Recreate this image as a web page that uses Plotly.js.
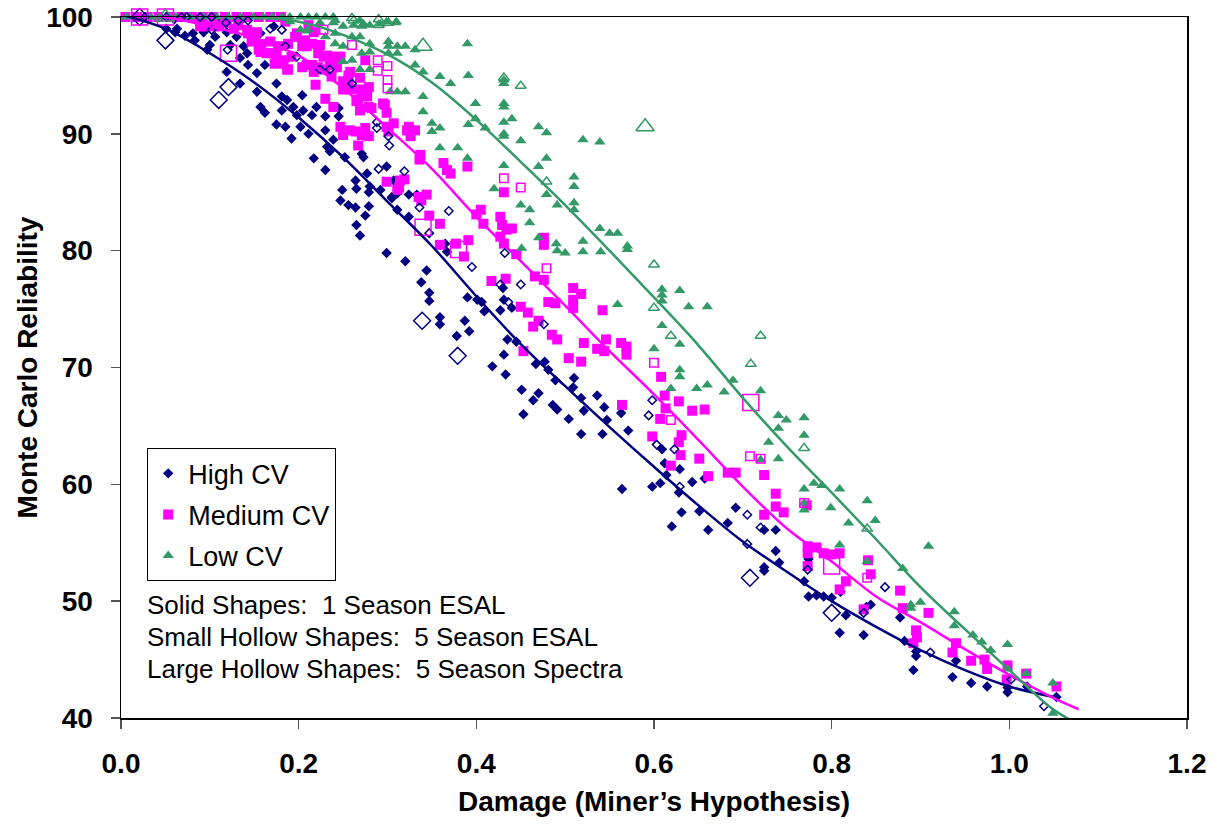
<!DOCTYPE html>
<html>
<head>
<meta charset="utf-8">
<script src="https://cdn.plot.ly/plotly-3.0.1.min.js"></script>
<style>html,body{margin:0;padding:0;background:#fff;}#chart{width:1217px;height:829px;}</style>
</head>
<body>
<div id="chart"></div>
<script>
// ---------- categories / labels ----------
const seriesNames = ["High CV", "Medium CV", "Low CV"];
const noteLines = ["Solid Shapes:\u00A0 1 Season ESAL", "Small Hollow Shapes:\u00A0 5 Season ESAL", "Large Hollow Shapes:\u00A0 5 Season Spectra"];
const xTitle = "Damage (Miner\u2019s Hypothesis)";
const yTitle = "Monte Carlo Reliability";

// ---------- High CV: solid (1 season ESAL) ----------
const highSolidX = [0.030,0.060,0.090,0.113,0.138,0.051,0.061,0.072,0.081,0.083,0.093,0.097,0.100,0.106,0.108,0.119,0.123,0.130,0.138,0.134,0.142,0.143,0.119,0.134,0.153,0.153,0.162,0.157,0.162,0.175,0.175,0.181,0.185,0.187,0.194,0.181,0.192,0.198,0.204,0.205,0.211,0.215,0.220,0.230,0.230,0.232,0.235,0.239,0.245,0.245,0.252,0.264,0.271,0.277,0.279,0.292,0.299,0.307,0.311,0.172,0.157,0.063,0.202,0.273,0.217,0.230,0.265,0.280,0.249,0.247,0.256,0.264,0.279,0.275,0.265,0.269,0.305,0.324,0.333,0.311,0.324,0.299,0.320,0.344,0.338,0.347,0.365,0.367,0.347,0.359,0.359,0.387,0.392,0.378,0.390,0.401,0.406,0.409,0.430,0.431,0.440,0.427,0.435,0.445,0.431,0.418,0.433,0.451,0.464,0.470,0.453,0.467,0.477,0.481,0.489,0.486,0.491,0.504,0.509,0.510,0.518,0.521,0.536,0.544,0.547,0.518,0.542,0.563,0.571,0.564,0.598,0.607,0.614,0.609,0.612,0.629,0.628,0.643,0.657,0.631,0.651,0.620,0.661,0.683,0.692,0.724,0.737,0.737,0.741,0.724,0.724,0.769,0.774,0.783,0.791,0.774,0.800,0.810,0.809,0.816,0.836,0.844,0.839,0.877,0.882,0.895,0.895,0.892,0.936,0.940,0.957,0.975,0.998,0.998,1.020,1.053];
const highSolidY = [100.0,99.8,99.6,99.7,99.9,99.0,98.7,98.4,98.6,98.0,98.7,97.2,97.6,98.3,99.3,98.7,97.6,98.3,97.5,96.5,96.9,95.9,95.3,94.3,95.2,93.6,95.9,92.3,91.8,94.3,90.8,93.2,90.6,92.9,92.3,92.0,89.6,91.6,93.3,92.0,90.0,91.6,92.3,91.5,90.3,88.9,88.5,89.5,92.2,91.5,88.0,86.0,88.3,86.6,85.0,85.2,87.2,86.0,84.9,99.2,98.6,99.0,90.6,88.0,87.9,86.9,85.3,85.5,85.2,84.3,83.9,83.7,83.8,83.0,82.2,81.3,84.6,84.8,84.8,83.5,82.9,79.8,79.1,78.3,77.3,76.4,80.6,79.9,75.7,74.3,73.7,74.0,73.1,72.7,76.0,75.8,75.6,74.8,76.8,75.8,75.1,74.9,72.4,72.2,71.1,70.1,69.4,68.1,67.2,67.8,66.0,70.3,70.5,69.8,68.9,66.8,66.4,65.6,68.3,69.1,67.4,66.3,67.6,66.6,65.5,64.3,64.3,66.1,64.6,59.6,59.8,60.1,60.8,63.0,61.8,61.3,59.3,60.2,60.5,57.6,57.7,56.4,56.1,56.7,58.0,56.1,56.1,54.3,53.3,52.9,52.6,51.7,53.6,50.5,50.4,50.4,50.3,50.8,47.3,48.8,47.1,49.7,49.5,48.6,46.6,45.7,45.3,44.1,43.5,44.9,43.0,42.7,42.6,42.2,42.7,41.8];

// ---------- High CV: small hollow (5 season ESAL) ----------
const highHollowX = [0.027,0.051,0.068,0.074,0.089,0.102,0.118,0.132,0.143,0.102,0.168,0.181,0.185,0.198,0.224,0.235,0.260,0.288,0.288,0.301,0.302,0.290,0.319,0.305,0.336,0.369,0.347,0.432,0.395,0.427,0.450,0.436,0.476,0.598,0.594,0.603,0.623,0.629,0.705,0.720,0.705,0.773,0.836,0.860,0.911,1.002,1.039,0.120];
const highHollowY = [100.0,100.0,100.0,100.0,100.0,100.0,99.5,99.7,99.7,98.9,99.0,98.9,97.5,96.6,95.5,95.5,94.3,91.0,90.5,89.8,89.0,87.0,86.8,84.5,83.7,83.4,81.5,79.8,78.6,77.1,77.1,75.6,73.7,67.2,65.9,63.4,63.0,59.8,57.4,56.3,54.9,52.7,49.0,51.2,45.6,43.3,41.0,97.2];

// ---------- High CV: large hollow (5 season spectra) ----------
const highLargeX = [0.021,0.050,0.110,0.121,0.339,0.379,0.708,0.800];
const highLargeY = [100.0,98.0,92.9,94.0,74.0,71.0,52.0,49.0];

// ---------- Medium CV: solid ----------
const medSolidX = [0.005,0.018,0.030,0.042,0.055,0.068,0.080,0.092,0.104,0.117,0.130,0.142,0.155,0.168,0.180,0.095,0.110,0.132,0.143,0.151,0.158,0.155,0.170,0.177,0.181,0.188,0.196,0.204,0.215,0.222,0.215,0.188,0.204,0.173,0.219,0.147,0.157,0.168,0.164,0.175,0.183,0.187,0.192,0.209,0.209,0.217,0.222,0.232,0.235,0.239,0.237,0.247,0.256,0.250,0.258,0.269,0.269,0.267,0.277,0.279,0.269,0.295,0.299,0.301,0.322,0.331,0.326,0.337,0.363,0.367,0.299,0.314,0.311,0.344,0.335,0.119,0.127,0.104,0.089,0.142,0.153,0.198,0.217,0.211,0.185,0.207,0.224,0.228,0.237,0.245,0.243,0.230,0.258,0.275,0.256,0.279,0.250,0.271,0.230,0.265,0.239,0.282,0.297,0.299,0.247,0.258,0.275,0.250,0.271,0.324,0.264,0.279,0.267,0.307,0.336,0.371,0.313,0.319,0.338,0.347,0.359,0.359,0.377,0.390,0.431,0.405,0.400,0.408,0.427,0.429,0.434,0.440,0.427,0.431,0.391,0.386,0.445,0.476,0.476,0.466,0.476,0.417,0.433,0.450,0.458,0.481,0.489,0.509,0.518,0.509,0.509,0.542,0.464,0.470,0.485,0.491,0.453,0.521,0.546,0.536,0.544,0.563,0.569,0.569,0.504,0.518,0.564,0.608,0.612,0.628,0.613,0.643,0.657,0.607,0.598,0.631,0.628,0.630,0.651,0.619,0.661,0.683,0.692,0.724,0.737,0.737,0.746,0.724,0.773,0.773,0.783,0.791,0.799,0.809,0.773,0.772,0.816,0.809,0.841,0.844,0.836,0.877,0.880,0.909,0.895,0.896,0.892,0.940,0.936,0.957,0.972,0.975,0.998,0.997,1.019,1.053];
const medSolidY = [100.0,100.0,100.0,100.0,100.0,100.0,100.0,100.0,100.0,100.0,100.0,100.0,100.0,100.0,100.0,99.2,99.2,99.3,98.6,98.0,97.7,97.2,96.9,97.5,96.3,97.7,98.3,97.5,97.7,96.9,95.9,95.5,95.7,96.0,94.2,97.9,97.0,97.9,96.9,96.7,96.0,95.5,96.6,95.9,97.5,95.3,95.7,96.7,95.9,96.5,94.9,96.6,95.0,94.5,93.8,94.8,93.8,92.9,93.2,92.3,92.0,92.6,90.6,90.2,90.3,90.3,89.8,88.2,87.5,86.9,85.9,86.0,85.2,84.8,84.6,99.5,99.0,99.2,99.2,98.9,98.7,98.6,98.7,99.3,99.6,98.0,97.6,96.6,96.6,96.6,95.7,95.5,95.3,96.3,94.6,94.0,93.8,93.5,93.0,92.8,92.3,92.2,92.5,91.8,90.6,90.3,90.5,89.9,89.9,90.6,90.2,89.8,89.0,90.9,87.8,86.6,85.4,86.1,84.3,83.0,82.3,80.5,80.6,87.2,85.0,83.5,83.1,82.3,82.9,82.2,81.8,81.9,81.2,80.6,80.9,79.5,79.7,80.5,81.1,77.8,77.5,77.4,77.6,75.2,74.7,75.6,75.5,76.8,76.3,75.8,75.1,74.9,73.5,74.0,72.8,72.4,71.4,72.1,72.4,71.6,71.4,72.1,71.8,71.1,70.8,70.5,66.8,69.2,67.6,67.1,66.5,66.3,66.4,65.6,64.1,64.2,63.6,62.5,62.2,61.6,60.7,61.0,61.0,60.8,59.2,58.1,57.6,57.4,54.7,54.1,54.6,54.1,54.0,54.1,53.0,58.2,51.7,51.0,53.5,52.3,49.3,50.9,49.4,49.0,47.5,46.9,46.4,46.4,45.6,44.9,45.0,44.2,44.5,43.3,43.8,42.7];

// ---------- Medium CV: small hollow ----------
const medHollowX = [0.219,0.228,0.260,0.289,0.289,0.300,0.300,0.300,0.431,0.450,0.479,0.600,0.619,0.708,0.720,0.840,0.769];
const medHollowY = [98.9,98.9,97.6,96.3,95.4,95.8,94.6,93.9,86.2,85.4,78.5,70.4,65.5,62.4,62.2,52.0,58.4];

// ---------- Medium CV: large hollow ----------
const medLargeX = [0.021,0.050,0.121,0.340,0.380,0.709,0.800];
const medLargeY = [100.0,100.0,96.9,82.0,80.1,67.0,53.0];

// ---------- Low CV: solid ----------
const lowSolidX = [0.006,0.033,0.042,0.061,0.078,0.093,0.108,0.121,0.134,0.149,0.160,0.170,0.181,0.190,0.202,0.211,0.220,0.230,0.239,0.190,0.202,0.211,0.224,0.239,0.250,0.262,0.273,0.292,0.299,0.309,0.241,0.241,0.269,0.271,0.310,0.280,0.209,0.230,0.260,0.269,0.241,0.250,0.280,0.301,0.301,0.311,0.320,0.331,0.271,0.280,0.301,0.311,0.250,0.260,0.269,0.280,0.331,0.340,0.359,0.371,0.391,0.303,0.311,0.320,0.340,0.340,0.350,0.359,0.350,0.399,0.399,0.391,0.410,0.359,0.390,0.431,0.431,0.431,0.431,0.440,0.431,0.431,0.431,0.450,0.470,0.479,0.520,0.539,0.379,0.390,0.431,0.470,0.479,0.510,0.510,0.420,0.450,0.460,0.460,0.491,0.510,0.510,0.539,0.550,0.559,0.570,0.470,0.490,0.520,0.479,0.491,0.500,0.520,0.540,0.570,0.451,0.609,0.609,0.609,0.629,0.639,0.559,0.609,0.660,0.629,0.600,0.629,0.629,0.619,0.648,0.660,0.679,0.689,0.720,0.740,0.749,0.769,0.740,0.769,0.729,0.740,0.720,0.769,0.780,0.789,0.809,0.799,0.769,0.769,0.819,0.809,0.840,0.849,0.840,0.909,0.880,0.889,0.900,0.889,0.938,0.938,0.959,0.969,0.979,0.998,0.998,1.019,1.049,1.049];
const lowSolidY = [100.0,100.0,100.0,100.0,100.0,100.0,100.0,100.0,100.0,100.0,100.0,100.0,100.0,100.0,100.0,100.0,100.0,100.0,100.0,99.6,98.9,98.9,99.5,99.5,99.2,99.3,99.4,99.4,99.6,99.5,98.6,99.7,99.7,99.2,99.6,99.3,98.8,98.3,98.3,98.3,97.7,97.5,97.7,97.9,97.5,97.5,97.5,97.2,96.9,97.0,96.9,96.9,96.2,96.3,95.5,95.5,95.9,95.3,94.9,94.3,95.0,93.6,93.6,93.6,93.2,91.9,90.9,90.5,90.2,92.6,91.3,90.8,90.5,88.8,97.7,94.3,94.6,92.6,92.3,91.3,91.0,90.0,89.8,89.4,90.6,90.1,89.5,89.3,88.8,87.9,87.3,87.2,87.9,86.3,85.5,85.3,83.9,83.5,82.4,83.9,84.1,83.5,81.9,81.5,81.5,80.4,81.1,80.6,80.8,84.8,80.0,79.8,79.9,79.9,80.1,80.2,76.7,76.2,75.7,76.6,75.2,75.4,73.6,75.2,72.0,71.6,69.8,69.2,68.2,68.2,68.5,67.9,68.9,68.0,65.9,65.5,65.7,64.8,64.2,63.6,62.2,62.1,59.6,60.1,59.9,59.6,58.0,58.4,57.8,56.7,54.8,58.6,56.9,53.4,54.7,52.8,49.7,49.9,49.4,49.1,47.9,47.1,46.5,45.8,46.3,44.2,43.8,43.0,40.4];

// ---------- Low CV: small hollow ----------
const lowHollowX = [0.262,0.290,0.290,0.301,0.260,0.431,0.450,0.479,0.600,0.600,0.619,0.720,0.709,0.769,0.840];
const lowHollowY = [99.7,99.8,99.3,99.5,99.9,94.8,94.1,85.9,78.8,75.1,72.7,72.7,70.3,63.1,56.2];

// ---------- Low CV: large hollow ----------
const lowLargeX = [0.050,0.340,0.590];
const lowLargeY = [100.0,97.5,90.6];

// ---------- trend lines ----------
const highTrendX = [0.00,0.05,0.10,0.15,0.20,0.25,0.30,0.35,0.40,0.45,0.50,0.55,0.60,0.65,0.70,0.75,0.80,0.85,0.90,0.95,1.00,1.05];
const highTrendY = [100.2,99.0,96.9,94.4,91.4,88.0,84.2,80.4,76.1,72.0,68.4,64.9,61.5,58.2,55.1,52.5,50.0,47.8,45.8,44.1,42.7,41.8];
const medTrendX = [0.00,0.05,0.10,0.15,0.20,0.25,0.30,0.35,0.40,0.45,0.50,0.55,0.60,0.65,0.70,0.75,0.80,0.85,0.90,0.95,1.00,1.05,1.078];
const medTrendY = [100.4,100.0,99.2,98.2,96.7,93.9,90.5,87.0,82.9,79.1,75.3,71.4,67.7,63.8,59.8,56.2,53.4,50.4,48.2,45.9,43.7,41.7,40.75];
const lowTrendX = [0.15,0.20,0.23,0.30,0.35,0.40,0.45,0.50,0.55,0.60,0.65,0.70,0.75,0.80,0.85,0.90,0.95,1.00,1.05,1.08];
const lowTrendY = [100.0,99.6,99.0,96.8,94.4,91.2,87.6,83.9,80.0,76.0,71.9,67.4,63.2,59.3,55.3,51.2,47.6,44.1,40.7,39.4];

// ---------- styles ----------
const cNavy = "#000080", cMag = "#FF00FF", cGreen = "#339966";
const FONT = "Arial, 'Liberation Sans', sans-serif";

function pts(x, y, name, color, symbol, size, hollow, legend, group) {
  return {
    type: "scatter", mode: "markers", x: x, y: y, name: name,
    showlegend: !!legend, legendgroup: group, cliponaxis: false,
    marker: hollow
      ? {symbol: symbol + "-open", size: size, color: color, line: {color: color, width: 1.5}}
      : {symbol: symbol, size: size, color: color, line: {width: 0}},
    hoverinfo: "x+y"
  };
}
function trend(x, y, color) {
  return {type: "scatter", mode: "lines", x: x, y: y, showlegend: false, cliponaxis: false,
    line: {color: color, width: 2.5, shape: "spline", smoothing: 1.0}, hoverinfo: "skip"};
}

const data = [
  pts(highSolidX, highSolidY, seriesNames[0], cNavy, "diamond", 8, false, true, "h"),
  pts(medSolidX, medSolidY, seriesNames[1], cMag, "square", 10, false, true, "m"),
  pts(lowSolidX, lowSolidY, seriesNames[2], cGreen, "triangle-up", 10, false, true, "l"),
  pts(highHollowX, highHollowY, "High CV 5S", cNavy, "diamond", 6.5, true),
  pts(medHollowX, medHollowY, "Medium CV 5S", cMag, "square", 8.5, true),
  pts(lowHollowX, lowHollowY, "Low CV 5S", cGreen, "triangle-up", 9.5, true),
  pts(highLargeX, highLargeY, "High CV spectra", cNavy, "diamond", 13, true),
  pts(medLargeX, medLargeY, "Medium CV spectra", cMag, "square", 16, true),
  pts(lowLargeX, lowLargeY, "Low CV spectra", cGreen, "triangle-up", 16, true),
  trend(highTrendX, highTrendY, cNavy),
  trend(medTrendX, medTrendY, cMag),
  trend(lowTrendX, lowTrendY, cGreen)
];

const axisCommon = {
  showgrid: false, zeroline: false, showline: true, linecolor: "#000", linewidth: 1.5, mirror: true,
  ticks: "outside", ticklen: 9, tickwidth: 1.5, tickcolor: "#555",
  tickfont: {family: FONT, size: 28, color: "#000", weight: 700}
};

const layout = {
  width: 1217, height: 829,
  margin: {l: 121, r: 30, t: 17, b: 111},
  paper_bgcolor: "#fff", plot_bgcolor: "#fff",
  font: {family: FONT, color: "#000"},
  xaxis: Object.assign({}, axisCommon, {
    range: [0, 1.2], dtick: 0.2, tick0: 0, tickformat: ".1f", ticklabelstandoff: 11,
    title: {text: xTitle, font: {family: FONT, size: 28, weight: 700}, standoff: 13}
  }),
  yaxis: Object.assign({}, axisCommon, {
    range: [40, 100], dtick: 10, tick0: 40, ticklabelstandoff: 12,
    title: {text: yTitle, font: {family: FONT, size: 28, weight: 700}, standoff: 0}
  }),
  legend: {
    x: 0.0244, y: 0.385, xanchor: "left", yanchor: "top",
    bgcolor: "#fff", bordercolor: "#000", borderwidth: 1.2,
    font: {family: FONT, size: 27, color: "#000"},
    traceorder: "grouped", tracegroupgap: 3
  },
  annotations: noteLines.map((t, i) => ({
    xref: "paper", yref: "paper", x: 0.0225, y: [0.161, 0.1156, 0.0699][i],
    xanchor: "left", yanchor: "middle", showarrow: false, text: t,
    font: {family: FONT, size: 26, color: "#000"}
  }))
};

Plotly.newPlot("chart", data, layout, {displayModeBar: false, staticPlot: true});
</script>
</body>
</html>
